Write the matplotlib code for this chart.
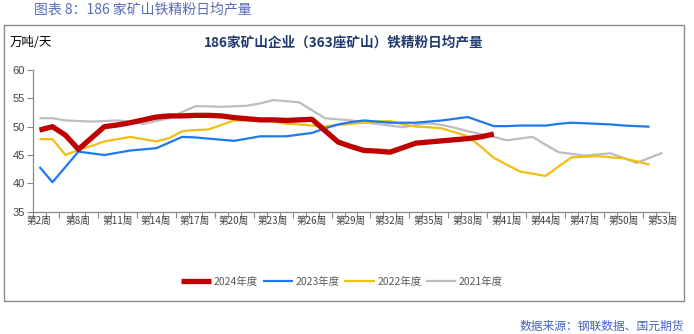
import matplotlib
matplotlib.use("Agg")
import matplotlib.pyplot as plt
from matplotlib.patches import Rectangle

plt.rcParams['font.family'] = ['Noto Sans CJK SC', 'DejaVu Sans']

weeks = [2, 6, 7] + list(range(8, 54))
categories = [f"第{w}周" for w in weeks]

s2024 = [49.4, 50.0, 48.5, 46.0, 48.0, 50.0, 50.3, 50.7, 51.2, 51.7,
         51.9, 51.9, 52.0, 52.0, 51.9, 51.6, 51.4, 51.2, 51.2, 51.1,
         51.2, 51.3, 49.3, 47.3, 46.5, 45.8, 45.7, 45.5, 46.3, 47.1,
         47.3, 47.5, 47.7, 47.9, 48.2, 48.7]
s2023 = [42.9, 40.2, 42.9, 45.6, 45.3, 45.0, 45.4, 45.8, 46.0, 46.2,
         47.2, 48.2, 48.1, 47.9, 47.7, 47.5, 47.9, 48.3, 48.3, 48.3,
         48.6, 48.9, 49.7, 50.4, 50.8, 51.1, 50.9, 50.7, 50.7, 50.7,
         50.9, 51.1, 51.4, 51.7, 50.9, 50.1, 50.1, 50.2, 50.2, 50.2,
         50.5, 50.7, 50.6, 50.5, 50.4, 50.2, 50.1, 50.0]
s2022 = [47.8, 47.8, 45.0, 45.9, 46.6, 47.4, 47.8, 48.2, 47.8, 47.4,
         48.0, 49.2, 49.4, 49.5, 50.3, 51.1, 51.1, 51.2, 51.0, 50.5,
         50.4, 50.2, 50.1, 50.3, 50.5, 50.7, 50.9, 51.0, 50.4, 50.0,
         49.9, 49.7, 49.0, 48.3, 46.5, 44.5, 43.3, 42.1, 41.7, 41.3,
         43.0, 44.6, 44.7, 44.8, 44.6, 44.4, 43.9, 43.3]
s2021 = [51.5, 51.5, 51.1, 51.0, 50.9, 51.0, 51.1, 50.9, 50.5, 51.0,
         51.5, 52.6, 53.6, 53.6, 53.5, 53.6, 53.7, 54.1, 54.7, 54.5,
         54.3, 52.9, 51.5, 51.3, 51.1, 50.8, 50.5, 50.2, 49.9, 50.3,
         50.6, 50.3, 49.8, 49.2, 48.7, 48.2, 47.6, 47.9, 48.2, 46.8,
         45.5, 45.2, 44.9, 45.1, 45.3, 44.5, 43.6, 44.5, 45.4]

series = [("2024年度", s2024, '#C00000', 3.8),
          ("2023年度", s2023, '#1E78F0', 1.6),
          ("2022年度", s2022, '#F2BE13', 1.6),
          ("2021年度", s2021, '#BDBDBD', 1.6)]

W, H = 694, 334
fig = plt.figure(figsize=(W / 100, H / 100), dpi=100)

# outer frame
fig.patches.append(Rectangle((4 / W, 1 - 301 / H), 680 / W, 276 / H,
                             transform=fig.transFigure, fill=False,
                             edgecolor='#8C8C8C', linewidth=1.0))

ax = fig.add_axes([33 / W, 1 - 211.7 / H, (669 - 33) / W, (211.7 - 70) / H])
draw_order = [3, 2, 1, 0]
for k in draw_order:
    name, vals, col, lw = series[k]
    ax.plot(range(len(vals)), vals, color=col, linewidth=lw, label=name,
            zorder=3 + (4 - k), solid_capstyle='butt')

ax.set_xlim(-0.5, len(categories) - 0.5)
ax.set_ylim(35, 60)
ax.set_yticks(range(35, 61, 5))
ax.set_xticks([i - 0.5 for i in range(len(categories) + 1)])
ax.set_xticklabels([])
ax.set_xticks(list(range(0, len(categories), 3)), minor=True)
ax.set_xticklabels([categories[i] for i in range(0, len(categories), 3)],
                   minor=True, fontsize=7, color='#404040')
ax.tick_params(axis='x', which='major', length=4, color='#898989', width=0.8)
ax.tick_params(axis='x', which='minor', length=0, pad=3)
ax.tick_params(axis='y', length=4, color='#898989', width=0.8,
               labelsize=8, labelcolor='#404040', pad=2)
for t in ax.get_yticklabels():
    t.set_family(['Liberation Sans', 'DejaVu Sans'])
for sp in ['top', 'right']:
    ax.spines[sp].set_visible(False)
for sp in ['left', 'bottom']:
    ax.spines[sp].set_color('#898989')
    ax.spines[sp].set_linewidth(0.9)

handles, labels = ax.get_legend_handles_labels()
order = [labels.index(s[0]) for s in series]
leg = fig.legend([handles[i] for i in order], [labels[i] for i in order],
                 loc='center', bbox_to_anchor=(342 / W, 1 - 282 / H), ncol=4,
                 frameon=False, fontsize=7.5, handlelength=2.9,
                 handletextpad=0.25, columnspacing=0.45)
for t in leg.get_texts():
    t.set_color('#595959')

fig.text(34 / W, 1 - 9 / H, "图表 8：186 家矿山铁精粉日均产量", fontsize=10,
         color='#5A6BB8', va='center', ha='left')
fig.text(10 / W, 1 - 43 / H, "万吨/天", fontsize=9, color='#000000',
         va='center', ha='left')
fig.text(344 / W, 1 - 43 / H, "186家矿山企业（363座矿山）铁精粉日均产量",
         fontsize=9.8, fontweight='bold', color='#1F3A70', va='center', ha='center')
fig.text(684 / W, 1 - 326 / H, "数据来源：钢联数据、国元期货", fontsize=8.5,
         color='#4662C0', va='center', ha='right')

fig.savefig("out.png", dpi=100)
